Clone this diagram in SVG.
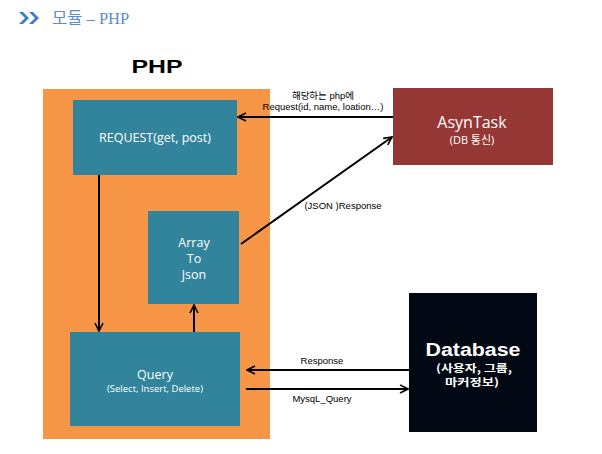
<svg xmlns="http://www.w3.org/2000/svg" width="602" height="454" viewBox="0 0 602 454">
<defs>
<style>
.box{stroke:none}
.teal{fill:#31849b}
.wt{fill:#ffffff;font-family:"Open Sans","Noto Sans","Noto Sans CJK KR",sans-serif;text-anchor:middle}
.lbl{fill:#000000;font-family:"Liberation Sans","Noto Sans CJK KR",sans-serif;font-size:9.5px;text-anchor:middle}
.ln{stroke:#000;stroke-width:2;fill:none}
.dbk{font-family:"Noto Sans CJK KR",sans-serif;font-weight:bold;font-size:10.5px;fill:#fff;text-anchor:middle}
</style>
<marker id="ah" viewBox="0 0 10 10" refX="9" refY="5" markerWidth="5" markerHeight="5" orient="auto-start-reverse" markerUnits="strokeWidth">
<path d="M1,1 L9,5 L1,9" fill="none" stroke="#000" stroke-width="1.6"/>
</marker>
</defs>
<rect width="602" height="454" fill="#ffffff"/>
<g id="header">
<path d="M19,12 L25,18 L19,24 L23,24 L29,18 L23,12 Z M29,12 L35,18 L29,24 L33,24 L39,18 L33,12 Z" fill="#3c7ec6"/>
<text x="52" y="24" font-size="16.5" fill="#5b8ccc"><tspan font-family="'Noto Sans CJK KR',sans-serif">모듈</tspan><tspan font-family="'Liberation Serif',serif"> – PHP</tspan></text>
</g>
<g id="php-container">
<rect x="43" y="89" width="227" height="350" fill="#f79646"/>
<text x="157" y="73" font-family="'Liberation Sans',sans-serif" font-weight="bold" font-size="19" text-anchor="middle" textLength="51" lengthAdjust="spacingAndGlyphs">PHP</text>
</g>
<g id="request">
<rect class="box teal" x="73" y="100" width="164" height="75"/>
<text class="wt" x="155" y="142" font-size="12.5">REQUEST(get, post)</text>
</g>
<g id="array-to-json">
<rect class="box teal" x="148" y="211" width="91" height="93"/>
<text class="wt" x="194" y="247" font-size="12.5">Array</text>
<text class="wt" x="194" y="263" font-size="12.5">To</text>
<text class="wt" x="194" y="279" font-size="12.5">Json</text>
</g>
<g id="query">
<rect class="box teal" x="70" y="332" width="170" height="94"/>
<text class="wt" x="155" y="379" font-size="12.5">Query</text>
<text class="wt" x="155" y="392" font-size="9.5">(Select, Insert, Delete)</text>
</g>
<g id="asyntask">
<rect x="393" y="88" width="160" height="77" fill="#953735"/>
<text class="wt" x="472" y="128" font-size="16">AsynTask</text>
<text class="wt" x="472" y="144" font-size="11">(DB 통신)</text>
</g>
<g id="database">
<rect x="409" y="293" width="128" height="139" fill="#030914"/>
<text x="473" y="356" font-family="'Liberation Sans',sans-serif" font-weight="bold" font-size="18" fill="#fff" text-anchor="middle" textLength="95" lengthAdjust="spacingAndGlyphs">Database</text>
<text class="dbk" x="474" y="372" textLength="76" lengthAdjust="spacingAndGlyphs">(사용자, 그룹,</text>
<text class="dbk" x="472" y="386" textLength="54" lengthAdjust="spacingAndGlyphs">마커정보)</text>
</g>
<g id="connectors">
<line class="ln" x1="393" y1="117" x2="238" y2="117" marker-end="url(#ah)"/>
<line class="ln" x1="99" y1="175" x2="99" y2="331" marker-end="url(#ah)"/>
<line class="ln" x1="194" y1="332" x2="194" y2="305" marker-end="url(#ah)"/>
<line class="ln" x1="241" y1="244" x2="392" y2="137" marker-end="url(#ah)"/>
<line class="ln" x1="409" y1="370" x2="247" y2="370" marker-end="url(#ah)"/>
<line class="ln" x1="246" y1="389" x2="408" y2="389" marker-end="url(#ah)"/>
<text class="lbl" x="323" y="99">해당하는 php에</text>
<text class="lbl" x="323" y="110">Request(id, name, loation…)</text>
<text class="lbl" x="343" y="209">(JSON )Response</text>
<text class="lbl" x="322" y="364">Response</text>
<text class="lbl" x="322" y="402">MysqL_Query</text>
</g>
</svg>
